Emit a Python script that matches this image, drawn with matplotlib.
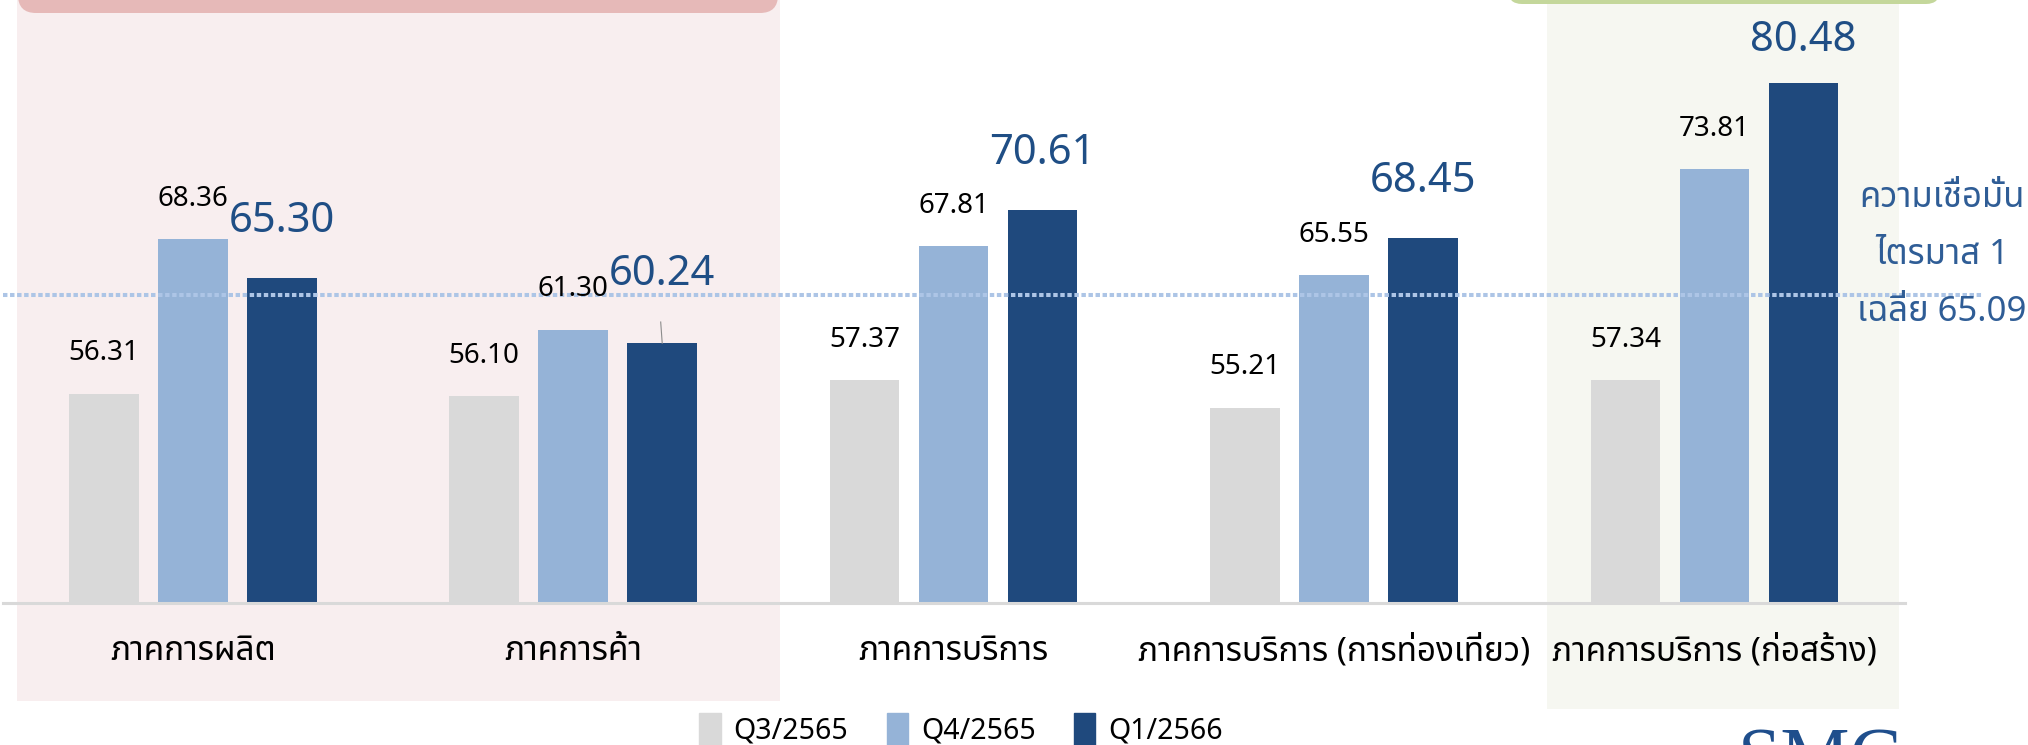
import matplotlib
matplotlib.use('Agg')
import matplotlib.pyplot as plt
import numpy as np
from matplotlib import font_manager
from matplotlib.ft2font import FT2Font
from matplotlib.patches import Rectangle, FancyBboxPatch, Patch
from matplotlib.transforms import IdentityTransform

# data
categories = ['ภาคการผลิต', 'ภาคการค้า', 'ภาคการบริการ',
              'ภาคการบริการ (การท่องเที่ยว)', 'ภาคการบริการ (ก่อสร้าง)']
series_names = ['Q3/2565', 'Q4/2565', 'Q1/2566']
q3_2565 = [56.31, 56.10, 57.37, 55.21, 57.34]
q4_2565 = [68.36, 61.30, 67.81, 65.55, 73.81]
q1_2566 = [65.30, 60.24, 70.61, 68.45, 80.48]
avg_value = 65.09
avg_lines = ['ความเชื่อมั่น', 'ไตรมาส 1', 'เฉลี่ย %.2f' % avg_value]

colors = ['#D9D9D9', '#95B3D7', '#1F497D']
label_colors = ['black', 'black', '#1F4E85']


# find a font that actually has Thai glyphs
def find_thai_font():
    found = []
    for f in font_manager.fontManager.ttflist:
        try:
            if 0x0E01 in FT2Font(f.fname).get_charmap():
                found.append(f.name)
        except Exception:
            pass
    for name in ['Noto Sans Thai', 'Noto Sans Thai UI', 'Tahoma', 'Loma',
                 'Garuda', 'Sarabun', 'Kinnari', 'Norasi']:
        if name in found:
            return name
    return found[0] if found else None


thai = find_thai_font()
fam = [thai, 'DejaVu Sans'] if thai else ['DejaVu Sans']
plt.rcParams['font.family'] = fam

W, H = 2028, 745
fig = plt.figure(figsize=(W / 100, H / 100), dpi=100)


def rect_px(x0, y0, x1, y1, color, rounded=0, z=-5):
    # pixel box, y measured from top of image
    if rounded:
        p = FancyBboxPatch((x0, H - y1), x1 - x0, y1 - y0,
                           boxstyle='round,pad=0,rounding_size=%d' % rounded,
                           transform=IdentityTransform(), fc=color, ec='none', zorder=z)
    else:
        p = Rectangle((x0, H - y1), x1 - x0, y1 - y0,
                      transform=IdentityTransform(), fc=color, ec='none', zorder=z)
    fig.add_artist(p)


# shaded panels behind the groups
rect_px(17, 0, 780, 701, '#F8EEEF')
rect_px(18, -40, 778, 13, '#E6B9B8', rounded=18, z=-4)
rect_px(1547, 0, 1899, 709, '#F6F7F1')
rect_px(1508, -40, 1940, 4, '#C4D79B', rounded=14, z=-4)

ax = fig.add_axes([2.6 / W, 1 - 603 / H, 1902 / W, 603 / H])
ax.set_facecolor('none')

x = np.arange(len(categories))
width = 0.183
step = 0.234
all_series = [q3_2565, q4_2565, q1_2566]
for i, vals in enumerate(all_series):
    ax.bar(x + (i - 1) * step, vals, width=width, color=colors[i],
           label=series_names[i], zorder=2)

# value labels (offsets in points above bar top)
for i, vals in enumerate(all_series):
    for j, v in enumerate(vals):
        if i < 2:
            dy, fs = 29, 20
        else:
            dy, fs = 41, 30
            if j == 4:
                dy = 31.5
            if j == 1:
                dy = 50
        ax.annotate('%.2f' % v, (x[j] + (i - 1) * step, v), xytext=(0, dy),
                    textcoords='offset points', ha='center', va='center',
                    fontsize=fs, color=label_colors[i], zorder=4)

# small leader line for 60.24
ax.plot([x[1] + step, x[1] + step - 0.004], [q1_2566[1], q1_2566[1] + 1.65],
        color='#8C8C8C', lw=0.8, zorder=3)

ax.set_xlim(-0.5, 4.5)
ax.set_ylim(40, 40 + 602.7 / 12.83)

# average dotted line (sits a touch below 65.09 in the original graphic)
ax.axhline(64.0, xmin=0, xmax=1.041, color='#ADC5E6', lw=2.9,
           linestyle=(0, (1.1, 0.65)), zorder=3, clip_on=False)

for s in ['top', 'left', 'right']:
    ax.spines[s].set_visible(False)
ax.spines['bottom'].set_color('#D9D9D9')
ax.spines['bottom'].set_linewidth(2.2)
ax.set_yticks([])
ax.set_xticks([])

# category labels
for j, c in enumerate(categories):
    fig.text((2.6 + (x[j] + 0.5) * 1902 / 5) / W, 1 - 652 / H, c,
             ha='center', va='center', fontsize=24, color='black')

# right side note
for k, t in enumerate(avg_lines):
    fig.text(1942 / W, 1 - (198 + 57 * k) / H, t, ha='center', va='center',
             fontsize=25, color='#2F5D96', zorder=5)

handles = [Patch(color=c) for c in colors]
fig.legend(handles, series_names, loc='center', bbox_to_anchor=(961 / W, 1 - 729 / H),
           ncol=3, frameon=False, fontsize=20.5, handlelength=0.75, handleheight=1.4,
           handletextpad=0.45, columnspacing=1.35, borderpad=0)

# logo, mostly cut off at the bottom edge
fig.text(1820 / W, 1 - 781 / H, 'SMC', ha='center', va='baseline',
         fontsize=56, family='Liberation Serif', color='#1F4E8C')

fig.savefig('out.png', dpi=100)
